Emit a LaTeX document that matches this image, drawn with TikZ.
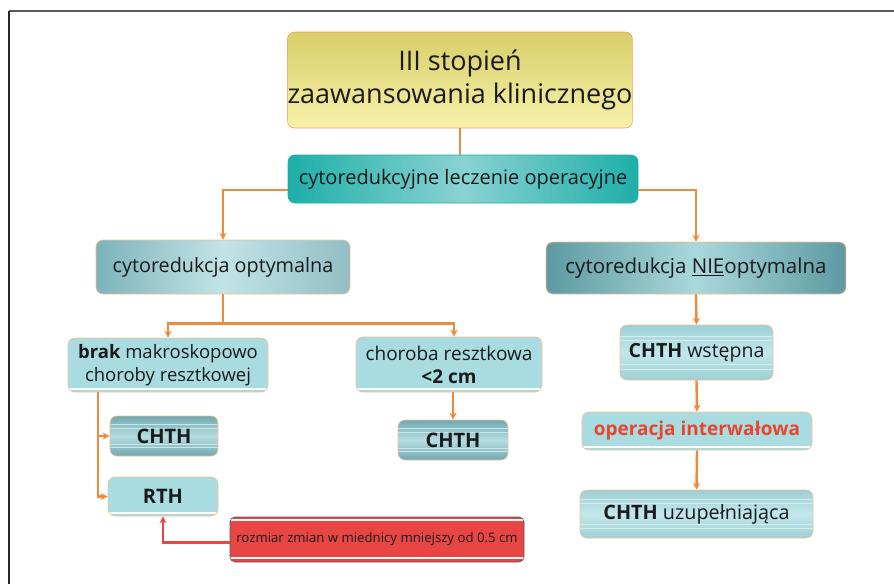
\documentclass[tikz,border=0pt]{standalone}
\usepackage{fontspec}
\setmainfont{Open Sans}
\usetikzlibrary{arrows.meta,calc}

\definecolor{lineor}{HTML}{EE8A3C}
\definecolor{edgeor}{HTML}{F3C08E}
\definecolor{txt}{HTML}{1A1A1A}
\definecolor{redtxt}{HTML}{E8452F}
\definecolor{ttop}{HTML}{D8CE6A}
\definecolor{tbot}{HTML}{F7F1A9}
\definecolor{tealA}{HTML}{1EAEA8}
\definecolor{tealB}{HTML}{8AD2D2}
\definecolor{optA}{HTML}{7EB3BB}
\definecolor{optB}{HTML}{C2E3E6}
\definecolor{nieA}{HTML}{5C9AA1}
\definecolor{nieB}{HTML}{AAD8DC}
\definecolor{cyanL}{HTML}{A9DCE1}
\definecolor{bandD}{HTML}{6FA8AF}
\definecolor{bandL}{HTML}{B4DEE2}
\definecolor{bandS}{HTML}{9CD0D6}
\definecolor{bandT}{HTML}{C2E7EA}
\definecolor{redbox}{HTML}{E84545}

\tikzset{
  box/.style={rounded corners=7pt, draw=edgeor, line width=0.6pt, align=center,
    inner sep=0pt, text=txt},
  titlebox/.style={box, draw=lineor!80, top color=ttop, bottom color=tbot,
    font=\fontsize{27}{33}\selectfont},
  leadbox/.style={box, draw=tealA, left color=tealA, right color=tealA, middle color=tealB,
    font=\fontsize{20}{24}\selectfont},
  optbox/.style={box, left color=optA, right color=optA!85, middle color=optB,
    font=\fontsize{19.8}{24}\selectfont},
  niebox/.style={box, left color=nieA, right color=nieA, middle color=nieB,
    font=\fontsize{20.5}{24}\selectfont},
  lightbox/.style={box, fill=cyanL, font=\fontsize{19}{23}\selectfont,
    path picture={\draw[white, line width=1.6pt]
      ([yshift=3pt]path picture bounding box.south west) --
      ([yshift=3pt]path picture bounding box.south east);}},
  darkband/.style={box, top color=bandD, bottom color=bandD, middle color=bandL,
    font=\bfseries\fontsize{20}{24}\selectfont,
    path picture={
      \foreach \f in {0.22,0.3,0.7,0.78}
        \draw[bandL!70!white, line width=0.7pt]
          ($(path picture bounding box.south west)!\f!(path picture bounding box.north west)$) --
          ($(path picture bounding box.south east)!\f!(path picture bounding box.north east)$);}},
  lightband/.style={box, top color=bandS, bottom color=bandS, middle color=bandT,
    font=\fontsize{19.5}{23}\selectfont,
    path picture={
      \foreach \f in {0.2,0.28,0.72,0.8}
        \draw[white!60!bandS, line width=0.7pt]
          ($(path picture bounding box.south west)!\f!(path picture bounding box.north west)$) --
          ($(path picture bounding box.south east)!\f!(path picture bounding box.north east)$);}},
  warnbox/.style={box, draw=gray!70!black, rounded corners=5pt, fill=redbox,
    font=\fontsize{13.2}{16}\selectfont,
    path picture={
      \draw[white, line width=1.6pt]
        ([yshift=-3pt]path picture bounding box.north west) --
        ([yshift=-3pt]path picture bounding box.north east);
      \draw[white, line width=1.6pt]
        ([yshift=4pt]path picture bounding box.south west) --
        ([yshift=4pt]path picture bounding box.south east);}},
  link/.style={draw=lineor, line width=2.4pt},
  arr/.style={link, -{Stealth[length=7pt,width=7pt]}},
  redarr/.style={draw=redbox, line width=2.4pt, -{Stealth[length=7pt,width=7pt]}},
}

\begin{document}
\begin{tikzpicture}[x=1pt,y=-1pt]
  \useasboundingbox (0,0) rectangle (894,584);
  % page frame
  \draw[gray!70!black, line width=1.2pt] (9,11) -- (894,11);
  \draw[black!85, line width=1.2pt] (9,11) -- (9,584);

  % boxes
  \node[titlebox, minimum width=340pt, minimum height=96pt] (title) at (460,80)
    {III stopień\\zaawansowania klinicznego};
  \node[leadbox, minimum width=350pt, minimum height=48pt] (lead) at (463,179)
    {cytoredukcyjne leczenie operacyjne};
  \node[optbox, minimum width=254pt, minimum height=54pt] (opt) at (223,267)
    {cytoredukcja optymalna};
  \node[niebox, minimum width=300pt, minimum height=52pt] (nie) at (696,268)
    {cytoredukcja \underline{NIE}optymalna};
  \node[lightbox, font=\fontsize{18.5}{23}\selectfont,
    minimum width=200pt, minimum height=54pt] (brak) at (168,365)
    {\textbf{brak} makroskopowo\\choroby resztkowej};
  \node[lightbox, minimum width=186pt, minimum height=55pt] (chor) at (449,364.5)
    {choroba resztkowa\\\textbf{<2 cm}};
  \node[darkband, minimum width=108pt, minimum height=40pt] (chthL) at (164,436) {CHTH};
  \node[lightbox, font=\bfseries\fontsize{20}{24}\selectfont,
    minimum width=110pt, minimum height=39pt] (rth) at (163,496.5) {RTH};
  \node[darkband, minimum width=110pt, minimum height=40pt] (chthM) at (453,440) {CHTH};
  \node[warnbox, minimum width=294pt, minimum height=45pt] (warn) at (377,539.5)
    {rozmiar zmian w miednicy mniejszy od 0.5 cm};
  \node[lightband, minimum width=153pt, minimum height=55pt] (chthW) at (696.5,352.5)
    {\textbf{CHTH} wstępna};
  \node[lightbox, text=redtxt, font=\bfseries\fontsize{19}{23}\selectfont,
    minimum width=230pt, minimum height=38pt] (oper) at (697,431)
    {operacja interwałowa};
  \node[lightband, font=\fontsize{19.8}{24}\selectfont,
    minimum width=233pt, minimum height=48pt] (chthU) at (696.5,514)
    {\textbf{CHTH} uzupełniająca};

  % connectors
  \draw[link] (title.south) -- (title.south |- lead.north);
  \draw[arr] ([yshift=-11pt]lead.west) -| (opt.north);
  \draw[arr] ([yshift=-11pt]lead.east) -| (nie.north);

  \coordinate (split) at ($(opt.south)+(0,29)$);
  \draw[link] (opt.south) -- (split);
  \draw[arr] (split) -| (brak.north);
  \draw[arr] (split) -| ([xshift=5pt]chor.north);

  \coordinate (trunk) at ($(brak.south west)+(30,0)$);
  \draw[arr] (trunk) |- (rth.west);
  \draw[arr] (trunk |- chthL.west) -- (chthL.west);
  \draw[arr] (chthM.north |- chor.south) -- (chthM.north);
  \draw[redarr] ([yshift=-3pt]warn.west) -| (rth.south);

  \draw[arr] (nie.south) -- (chthW.north);
  \draw[arr] (chthW.south) -- (oper.north);
  \draw[arr] (oper.south) -- (chthU.north);
\end{tikzpicture}
\end{document}
